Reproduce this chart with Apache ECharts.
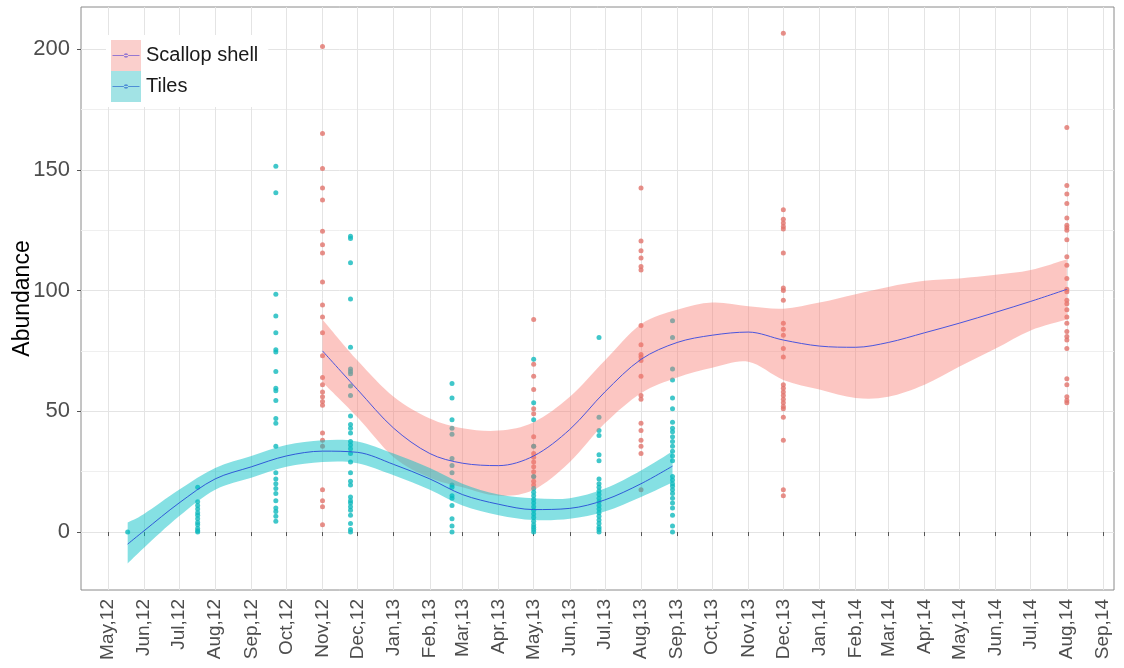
<!DOCTYPE html>
<html>
<head>
<meta charset="utf-8">
<title>Abundance on scallop shells and tiles</title>
<script src="https://cdn.jsdelivr.net/npm/echarts@6/dist/echarts.min.js"></script>
<style>
  html, body { margin: 0; padding: 0; background: #fff; }
  #chart { width: 1124px; height: 668px; }
</style>
</head>
<body>
<div id="chart"></div>
<script>
// ---- Tick labels -------------------------------------------------------
const monthTicks = [
  '2012-05-01','2012-06-01','2012-07-01','2012-08-01','2012-09-01','2012-10-01',
  '2012-11-01','2012-12-01','2013-01-01','2013-02-01','2013-03-01','2013-04-01',
  '2013-05-01','2013-06-01','2013-07-01','2013-08-01','2013-09-01','2013-10-01',
  '2013-11-01','2013-12-01','2014-01-01','2014-02-01','2014-03-01','2014-04-01',
  '2014-05-01','2014-06-01','2014-07-01','2014-08-01','2014-09-01'
];
const monthNames = ['Jan','Feb','Mar','Apr','May','Jun','Jul','Aug','Sep','Oct','Nov','Dec'];
const yTicks = [0, 50, 100, 150, 200];
const yMinorTicks = [25, 75, 125, 175];

// ---- Observed abundance: scallop shell collectors ----------------------
const scallopDates = ['2012-11-01', '2013-05-01', '2013-08-01', '2013-12-01', '2014-08-01'];
const scallopNov12 = [201, 165, 150.5, 142.5, 137.5, 124.5, 119, 115.5, 103.5, 94, 89, 82.5, 73, 64, 61, 58, 56, 54, 52.5, 41, 38, 35.5, 17.5, 13, 10.5, 3];
const scallopMay13 = [88, 69.5, 64.5, 59, 51, 49, 39.5, 35.5, 32.5, 31, 29, 27, 25, 23, 21, 19.5];
const scallopAug13 = [142.5, 120.5, 116.5, 113.5, 110, 108.5, 85.5, 77.5, 73.5, 72.5, 71, 64.5, 56.5, 55, 45, 42, 38, 35.5, 32.5, 17.5];
const scallopDec13 = [206.5, 133.5, 129.5, 128, 126.5, 125.5, 115.5, 101, 100, 96, 86.5, 84, 81.5, 76, 72.5, 61, 59.5, 58, 56.5, 55, 53.5, 52, 51, 47.5, 38, 17.5, 15];
const scallopAug14 = [167.5, 143.5, 140, 136, 130, 127, 126, 125, 121, 114, 110.5, 105, 100.5, 99.5, 96, 94.5, 92, 89, 86.5, 83, 81, 79.5, 76, 63.5, 61, 56, 54.5, 53.5];
const scallopSamples = [scallopNov12, scallopMay13, scallopAug13, scallopDec13, scallopAug14];

// ---- Observed abundance: tile collectors -------------------------------
const tileDates = ['2012-05-18', '2012-07-17', '2012-09-22', '2012-11-25', '2013-02-20', '2013-05-01', '2013-06-26', '2013-08-28'];
const tilesMay12 = [0];
const tilesJul12 = [18.5, 12.5, 11, 9.5, 8, 7, 5.5, 4, 3, 1.5, 0.5, 0];
const tilesSep12 = [151.5, 140.5, 98.5, 89.5, 82.5, 75.5, 74.5, 66.5, 59.5, 58.5, 54.5, 47, 45, 35.5, 24.5, 22, 20, 18, 16, 13, 10, 8.5, 6.5, 4.5];
const tilesNov12 = [122.5, 121.5, 111.5, 96.5, 76.5, 67.5, 66.5, 65.5, 60.5, 56.5, 48, 44.5, 43, 41, 37.5, 36, 34.5, 32.5, 29, 24.5, 21, 19.5, 14.5, 13, 12, 10.5, 9, 7, 3.5, 1, 0];
const tilesFeb13 = [61.5, 55.5, 46.5, 43, 40.5, 30.5, 27.5, 24.5, 19.5, 18.5, 15, 14, 11, 5.5, 2.5, 0];
const tilesMay13 = [71.5, 53.5, 46.5, 35.5, 23, 18, 16.5, 15, 13.5, 12, 10.5, 9, 7.5, 6, 4.5, 3, 2, 1, 0];
const tilesJun13 = [80.5, 47.5, 42, 40, 32, 29.5, 22, 20, 18.5, 17, 15.5, 14, 12.5, 11, 9.5, 8, 6.5, 5, 3.5, 2, 1, 0];
const tilesAug13 = [87.5, 80.5, 67.5, 63, 55.5, 51, 45.5, 43, 41.5, 39.5, 37.5, 35.5, 33.5, 31.5, 29.5, 23, 21.5, 20, 19, 17.5, 16, 14, 12, 10, 7, 2.5, 0];
const tileSamples = [tilesMay12, tilesJul12, tilesSep12, tilesNov12, tilesFeb13, tilesMay13, tilesJun13, tilesAug13];

// ---- Smoothed trend with confidence band: scallop shell -----------------
const scallopCurveDates = [
  '2012-11-01','2012-12-01','2013-01-01','2013-02-01','2013-03-01','2013-04-01',
  '2013-05-01','2013-06-01','2013-07-01','2013-08-01','2013-09-01','2013-10-01',
  '2013-11-01','2013-12-01','2014-01-01','2014-02-01','2014-03-01','2014-04-01',
  '2014-05-01','2014-06-01','2014-07-01','2014-08-01'
];
const scallopFit   = [75, 59, 43, 32.5, 28.5, 27.5, 31.5, 42.5, 58, 71.5, 78.5, 81.5, 82.8, 79.5, 77, 76.5, 78.5, 82.5, 86.5, 91, 95.5, 100.5];
const scallopLower = [62, 47.5, 31, 22.5, 18.5, 15, 17.5, 29, 45, 57.5, 64, 68, 70.5, 63, 59, 55.5, 56, 61, 68.5, 76, 83.5, 88];
const scallopUpper = [88, 71, 56, 47, 43, 42, 45.5, 56, 71, 86, 92, 95, 93.5, 92.5, 95, 98.5, 101.5, 104, 105, 106.5, 108.5, 113];

// ---- Smoothed trend with confidence band: tiles ------------------------
const tileCurveDates = [
  '2012-05-18','2012-06-01','2012-07-01','2012-08-01','2012-09-01','2012-10-01',
  '2012-11-01','2012-12-01','2013-01-01','2013-02-01','2013-03-01','2013-04-01',
  '2013-05-01','2013-06-01','2013-07-01','2013-08-01','2013-08-28'
];
const tileFit   = [-5, 0.5, 12, 22, 27, 31.5, 33.5, 33, 28, 22, 15.5, 11.5, 9.3, 9.8, 13.3, 20, 27.3];
const tileLower = [-13, -6.5, 6.5, 17.5, 22.5, 27, 29, 28.5, 23.5, 17.5, 11, 7, 5, 5.5, 8.5, 14.5, 20.5];
const tileUpper = [4, 7.5, 17.5, 26.5, 31.5, 36, 38, 37.5, 32.5, 26.5, 20, 15.5, 14, 14, 18, 25.5, 33.5];

// ---- Helpers -----------------------------------------------------------
const font = '"Liberation Sans", Arial, Helvetica, sans-serif';
// dates are placed on a millisecond value axis (UTC)
const ms = s => Date.parse(s.length > 10 ? s + 'Z' : s + 'T00:00:00Z');
const pairs = (dates, values) => dates.map((d, i) => [ms(d), values[i]]);
const columns = (dates, samples) => samples.flatMap((vals, i) => vals.map(v => [ms(dates[i]), v]));
const monthTickValues = monthTicks.map(ms);

// Legend key: a short line with a dot, framed to the full key box
const keyIcon = 'path://M0,0h0.01v0.01h-0.01zM29.99,30.99h0.01v0.01h-0.01z' +
                'M1.5,14.9h27v1.2h-27zM12.8,15.5a2.2,2.2 0 1,0 4.4,0a2.2,2.2 0 1,0 -4.4,0z';

// Catmull-Rom style cubic segments through screen points (first point already reached)
function curveThrough(pts) {
  let d = '';
  for (let i = 0; i < pts.length - 1; i++) {
    const p0 = pts[Math.max(i - 1, 0)], p1 = pts[i], p2 = pts[i + 1], p3 = pts[Math.min(i + 2, pts.length - 1)];
    const c1 = [p1[0] + (p2[0] - p0[0]) / 6, p1[1] + (p2[1] - p0[1]) / 6];
    const c2 = [p2[0] - (p3[0] - p1[0]) / 6, p2[1] - (p3[1] - p1[1]) / 6];
    d += ' C' + c1[0].toFixed(2) + ',' + c1[1].toFixed(2) + ' ' + c2[0].toFixed(2) + ',' + c2[1].toFixed(2) +
         ' ' + p2[0].toFixed(2) + ',' + p2[1].toFixed(2);
  }
  return d;
}

// Confidence band: one filled shape between the lower and upper bounds
function bandSeries(dates, lower, upper, fill) {
  return {
    type: 'custom',
    silent: true,
    z: 3,
    clip: true,
    data: dates.map((d, i) => [ms(d), lower[i], upper[i]]),
    encode: { x: 0, y: [1, 2] },
    renderItem: function (params, api) {
      if (params.dataIndexInside !== 0) return null;
      const n = params.dataInsideLength;
      const top = [], bottom = [];
      for (let i = 0; i < n; i++) {
        const x = api.value(0, i);
        top.push(api.coord([x, api.value(2, i)]));
        bottom.push(api.coord([x, api.value(1, i)]));
      }
      bottom.reverse();
      const pathData = 'M' + top[0][0].toFixed(2) + ',' + top[0][1].toFixed(2) + curveThrough(top) +
                       ' L' + bottom[0][0].toFixed(2) + ',' + bottom[0][1].toFixed(2) + curveThrough(bottom) + ' Z';
      return { type: 'path', shape: { pathData: pathData }, style: { fill: fill, stroke: null } };
    }
  };
}

function fitSeries(dates, values, color) {
  return { type: 'line', data: pairs(dates, values), smooth: 0.33, symbol: 'none', silent: true,
           lineStyle: { color: color, width: 1 }, z: 4 };
}

const chart = echarts.init(document.getElementById('chart'), null, { renderer: 'canvas' });

chart.setOption({
  animation: false,
  backgroundColor: '#ffffff',
  grid: {
    left: 81, right: 10, top: 7, bottom: 78,
    outerBoundsMode: 'none', containLabel: false,
    show: true, borderColor: '#8a8a8a', borderWidth: 1, backgroundColor: 'transparent'
  },
  xAxis: {
    type: 'value',
    min: ms('2012-04-08'),
    max: ms('2014-09-10T10:00:00'),
    axisLine: { show: false },
    axisTick: { show: true, length: 4, customValues: monthTickValues, lineStyle: { color: '#555' } },
    axisLabel: {
      customValues: monthTickValues,
      rotate: 90,
      margin: 9,
      fontSize: 19,
      color: '#4d4d4d',
      fontFamily: font,
      formatter: function (value) {
        const d = new Date(value);
        return monthNames[d.getUTCMonth()] + ',' + String(d.getUTCFullYear()).slice(2);
      }
    },
    splitLine: { show: true, lineStyle: { color: '#e4e4e4', width: 1 } }
  },
  yAxis: [
    {
      type: 'value', min: -24, max: 217.4,
      name: 'Abundance', nameLocation: 'middle', nameGap: 47, nameMoveOverlap: false,
      nameTextStyle: { fontSize: 23, color: '#000', fontFamily: font },
      axisLine: { show: false },
      axisTick: { show: true, length: 4, customValues: yTicks, lineStyle: { color: '#555' } },
      axisLabel: { customValues: yTicks, fontSize: 22, color: '#4d4d4d', fontFamily: font, margin: 11 },
      splitLine: { show: true, lineStyle: { color: '#e4e4e4', width: 1 } }
    },
    {
      type: 'value', min: -24, max: 217.4,
      axisLine: { show: false },
      axisTick: { show: false, customValues: yMinorTicks },
      axisLabel: { show: false },
      splitLine: { show: true, lineStyle: { color: '#efefef', width: 1 } }
    }
  ],
  legend: [
    {
      left: 106, top: 35, orient: 'vertical', padding: [5, 10, 5, 5],
      backgroundColor: '#ffffff', itemWidth: 30, itemHeight: 31, itemGap: 0,
      selectedMode: false, z: 6,
      textStyle: { fontSize: 20, color: '#1a1a1a', fontFamily: font },
      data: [
        { name: 'Scallop shell', icon: 'rect', itemStyle: { color: '#f9c3bf' } },
        { name: 'Tiles', icon: 'rect', itemStyle: { color: '#8bdcdf' } }
      ]
    },
    {
      left: 106, top: 35, orient: 'vertical', padding: [5, 10, 5, 5],
      itemWidth: 30, itemHeight: 31, itemGap: 0,
      selectedMode: false, z: 7,
      textStyle: { fontSize: 20, color: 'rgba(0,0,0,0)', fontFamily: font },
      data: [
        { name: 'Scallop shell', icon: keyIcon, itemStyle: { color: '#7c62d2' } },
        { name: 'Tiles', icon: keyIcon, itemStyle: { color: '#3a78d2' } }
      ]
    }
  ],
  series: [
    { name: 'Scallop shell', type: 'scatter', data: columns(scallopDates, scallopSamples),
      symbolSize: 5, itemStyle: { color: '#e1736c' }, z: 2 },
    { name: 'Tiles', type: 'scatter', data: columns(tileDates, tileSamples),
      symbolSize: 5, itemStyle: { color: '#10b9bd' }, z: 2 },
    bandSeries(scallopCurveDates, scallopLower, scallopUpper, 'rgba(248,118,109,0.42)'),
    fitSeries(scallopCurveDates, scallopFit, '#4a55dd'),
    bandSeries(tileCurveDates, tileLower, tileUpper, 'rgba(0,191,196,0.48)'),
    fitSeries(tileCurveDates, tileFit, '#2f5ad8')
  ]
});
</script>
</body>
</html>
